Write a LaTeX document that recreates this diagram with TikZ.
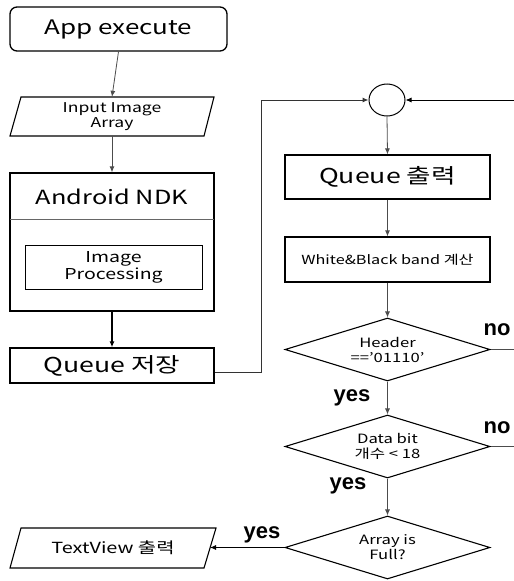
\documentclass[tikz,border=0pt]{standalone}
\usepackage{fontspec}
\setmainfont{Noto Sans CJK KR}[FakeStretch=1.3]
\newfontfamily\lblfont{Liberation Sans}
\usetikzlibrary{shapes.geometric,arrows.meta}
\begin{document}
\begin{tikzpicture}[x=1pt,y=-1pt,
  box/.style={draw=black,line width=1.3pt,rectangle,inner sep=0pt},
  conn/.style={draw=black!70,line width=0.8pt},
  arr/.style={conn,-{Latex[length=6pt,width=5pt]}},
  dia/.style={draw=black,line width=1.1pt,diamond,aspect=3.25,inner sep=0pt,minimum width=205pt,minimum height=63pt,font=\fontsize{12.8}{15}\selectfont,align=center},
  lbl/.style={font=\lblfont\bfseries\fontsize{22}{24}\selectfont,inner sep=0pt},
]
\useasboundingbox (0,0) rectangle (514,581);

% App execute
\node[box,rounded corners=7pt,minimum width=217pt,minimum height=44pt,font=\fontsize{20}{24}\selectfont] (app) at (118.5,29) {App execute};

% Input Image Array (parallelogram)
\node[minimum width=194pt,minimum height=39pt,inner sep=0pt,align=center,font=\fontsize{13.5}{15}\selectfont] (inp) at (112,116.5) {Input Image\\Array};
\draw[line width=1.1pt] (21,97) -- (214,97) -- (204,136) -- (10,136) -- cycle;

% Android NDK
\node[box,minimum width=204pt,minimum height=138pt] (ndk) at (112,242) {};
\draw[line width=0.6pt,black!60] (10,219) -- (214,219);
\node[font=\fontsize{19.5}{22}\selectfont] (ndkt) at (112,197) {Android NDK};
\node[draw=black,line width=1pt,minimum width=177pt,minimum height=44pt,inner sep=0pt,align=center,font=\fontsize{15}{17}\selectfont] (imgp) at (113.5,267) {Image\\Processing};

% Queue save
\node[box,minimum width=204pt,minimum height=35pt,font=\fontsize{20.5}{22}\selectfont] (q1) at (112,365.5) {Queue 저장};

% Circle
\node[draw=black,line width=1pt,ellipse,minimum width=36pt,minimum height=32pt,inner sep=0pt] (circ) at (387,100) {};
\coordinate (rin) at (514,100);

% Right column
\node[box,minimum width=205pt,minimum height=44pt,font=\fontsize{20.5}{22}\selectfont] (q2) at (387.5,177) {Queue 출력};
\node[box,minimum width=205pt,minimum height=45pt,font=\fontsize{12.5}{15}\selectfont] (wb) at (387.5,259.5) {White\&Black band 계산};
\node[dia] (d1) at (387.5,349.5) {Header\\=='01110'};
\node[dia] (d2) at (387.5,446.5) {Data bit\\개수 < 18};
\node[dia] (d3) at (387.5,547.5) {Array is\\Full?};
\coordinate (r1) at (514,349.5);
\coordinate (r2) at (514,446.5);

% TextView output (parallelogram)
\node[minimum width=194pt,minimum height=40pt,inner sep=0pt,font=\fontsize{15.3}{17}\selectfont] (tv) at (113,548) {TextView 출력};
\draw[line width=1.1pt] (21,528) -- (216,528) -- (204,568) -- (10,568) -- cycle;
\coordinate (tve) at (210,547.5);

% connectors
\draw[arr] (app.south) -- (inp.north);
\draw[arr] (inp.south) -- (ndk.north);
\draw[conn,black,line width=1.4pt,-{Latex[length=6pt,width=5pt]}] (ndk.south) -- (q1.north);
\draw[conn,black!80,line width=1pt,-{Latex[length=6pt,width=5pt]}] (q1.east) ++(0,6.5) -- ++(47,0) |- (circ.west);
\draw[arr,black] (rin) -- (circ.east);
\draw[arr] (circ.south) -- (q2.north);
\draw[arr] (q2.south) -- (wb.north);
\draw[arr] (wb.south) -- (d1.north);
\draw[arr] (d1.south) -- (d2.north);
\draw[arr] (d2.south) -- (d3.north);
\draw[conn] (d1.east) -- (r1);
\draw[conn] (d2.east) -- (r2);
\draw[arr,black] (d3.west) -- (tve);

% labels
\node[lbl] (no1) at (497,330) {no};
\node[lbl] (no2) at (497,428) {no};
\node[lbl] (yes1) at (352,398) {yes};
\node[lbl] (yes2) at (348,486) {yes};
\node[lbl] (yes3) at (262,535) {yes};
\end{tikzpicture}
\end{document}
